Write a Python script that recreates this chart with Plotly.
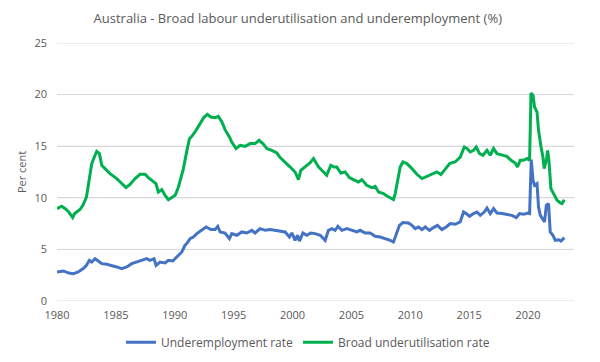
import plotly.graph_objects as go

# Broad labour underutilisation rate (%)
broad_t = [1980.0, 1980.4, 1980.7, 1981.0, 1981.33, 1981.5, 1981.95, 1982.2, 1982.5, 1982.75,
           1982.95, 1983.17, 1983.37, 1983.6, 1983.8, 1984.08, 1984.5, 1985.07, 1985.5, 1985.86,
           1986.2, 1986.63, 1987.05, 1987.48, 1987.76, 1988.18, 1988.4, 1988.6, 1988.9, 1989.18,
           1989.46, 1989.75, 1990.03, 1990.3, 1990.73, 1991.0, 1991.24, 1991.44, 1991.72, 1992.15,
           1992.5, 1992.77, 1993.06, 1993.42, 1993.7, 1994.0, 1994.27, 1994.64, 1994.84, 1995.2,
           1995.55, 1995.97, 1996.4, 1996.82, 1997.16, 1997.48, 1997.82, 1998.24, 1998.67, 1998.95,
           1999.37, 1999.8, 2000.22, 2000.5, 2000.7, 2001.07, 2001.5, 2001.78, 2002.2, 2002.63,
           2002.9, 2003.25, 2003.53, 2003.76, 2004.1, 2004.47, 2004.83, 2005.17, 2005.6, 2005.89,
           2006.3, 2006.74, 2007.02, 2007.3, 2007.72, 2008.06, 2008.3, 2008.57, 2008.72, 2008.91,
           2009.14, 2009.37, 2009.71, 2010.14, 2010.56, 2010.99, 2011.41, 2011.84, 2012.26, 2012.6,
           2012.97, 2013.36, 2013.8, 2014.24, 2014.58, 2014.81, 2015.09, 2015.37, 2015.6, 2015.88,
           2016.17, 2016.51, 2016.79, 2017.07, 2017.36, 2017.78, 2018.2, 2018.55, 2018.91, 2019.1,
           2019.33, 2019.62, 2019.9, 2020.13, 2020.25, 2020.42, 2020.55, 2020.76, 2020.89, 2021.1,
           2021.26, 2021.37, 2021.55, 2021.66, 2021.77, 2021.94, 2022.17, 2022.46, 2022.74, 2022.88,
           2023.08]
broad_v = [8.95, 9.18, 8.95, 8.62, 8.08, 8.47, 8.86, 9.27, 10.08, 11.7,
           13.3, 13.95, 14.5, 14.28, 13.15, 12.83, 12.34, 11.86, 11.38, 10.99,
           11.3, 11.86, 12.28, 12.28, 11.96, 11.53, 11.37, 10.56, 10.79, 10.24,
           9.82, 10.02, 10.24, 11.0, 12.8, 14.4, 15.7, 15.96, 16.38, 17.19,
           17.83, 18.09, 17.83, 17.77, 17.9, 17.35, 16.6, 15.9, 15.4, 14.77,
           15.09, 14.99, 15.25, 15.25, 15.57, 15.25, 14.77, 14.6, 14.34, 13.9,
           13.47, 12.98, 12.5, 11.76, 12.66, 12.98, 13.4, 13.8, 13.0, 12.5,
           12.18, 13.15, 12.98, 12.98, 12.4, 12.5, 11.96, 11.76, 11.53, 11.76,
           11.21, 10.99, 11.11, 10.56, 10.41, 10.15, 9.98, 9.83, 10.41, 11.53,
           12.98, 13.47, 13.31, 12.83, 12.28, 11.86, 12.08, 12.28, 12.5, 12.25,
           12.75, 13.35, 13.47, 13.95, 14.92, 14.77, 14.44, 14.6, 14.92, 14.28,
           14.12, 14.6, 14.12, 14.77, 14.28, 14.12, 14.02, 13.63, 13.37, 12.98,
           13.63, 13.63, 13.8, 13.63, 20.16, 19.93, 18.8, 18.31, 16.54, 14.92,
           13.95, 12.83, 13.63, 14.6, 13.63, 10.89, 10.41, 9.76, 9.5, 9.44,
           9.82]

# Underemployment rate (%)
under_t = [1980.0, 1980.54, 1981.0, 1981.4, 1981.8, 1982.23, 1982.5, 1982.75, 1982.95, 1983.23,
           1983.5, 1983.8, 1984.22, 1984.65, 1985.07, 1985.5, 1985.92, 1986.35, 1986.77, 1987.2,
           1987.62, 1987.9, 1988.24, 1988.41, 1988.75, 1989.18, 1989.46, 1989.83, 1990.17, 1990.6,
           1990.87, 1991.02, 1991.3, 1991.58, 1991.87, 1992.3, 1992.66, 1993.06, 1993.42, 1993.65,
           1993.85, 1994.27, 1994.64, 1994.84, 1995.27, 1995.69, 1996.12, 1996.54, 1996.82, 1997.25,
           1997.67, 1998.1, 1998.52, 1998.95, 1999.37, 1999.74, 1999.94, 2000.22, 2000.42, 2000.59,
           2000.88, 2001.21, 2001.55, 2001.92, 2002.35, 2002.77, 2003.05, 2003.34, 2003.62, 2003.85,
           2004.19, 2004.61, 2005.04, 2005.46, 2005.74, 2006.17, 2006.59, 2007.02, 2007.44, 2007.87,
           2008.3, 2008.57, 2008.8, 2009.08, 2009.37, 2009.85, 2010.14, 2010.42, 2010.7, 2010.99,
           2011.27, 2011.63, 2011.97, 2012.31, 2012.68, 2013.05, 2013.39, 2013.81, 2014.24, 2014.52,
           2014.75, 2015.03, 2015.37, 2015.66, 2015.94, 2016.28, 2016.51, 2016.79, 2017.07, 2017.36,
           2017.78, 2018.2, 2018.63, 2019.0, 2019.28, 2019.62, 2019.96, 2020.13, 2020.27, 2020.42,
           2020.55, 2020.76, 2020.89, 2021.04, 2021.26, 2021.4, 2021.55, 2021.74, 2021.88, 2022.11,
           2022.31, 2022.6, 2022.8, 2023.08]
under_v = [2.81, 2.91, 2.71, 2.65, 2.81, 3.14, 3.46, 3.94, 3.78, 4.1,
           3.88, 3.62, 3.56, 3.46, 3.3, 3.14, 3.3, 3.62, 3.78, 4.01,
           4.1, 3.94, 4.1, 3.46, 3.78, 3.69, 3.94, 3.88, 4.26, 4.75,
           5.4, 5.56, 6.05, 6.2, 6.53, 6.85, 7.17, 6.92, 6.92, 7.24,
           6.69, 6.59, 6.05, 6.53, 6.37, 6.69, 6.59, 6.85, 6.59, 7.01,
           6.85, 6.92, 6.85, 6.78, 6.69, 6.2, 6.59, 5.88, 6.37, 5.81,
           6.59, 6.37, 6.59, 6.53, 6.37, 5.88, 6.85, 7.01, 6.85, 7.24,
           6.85, 7.01, 6.85, 6.69, 6.85, 6.59, 6.59, 6.27, 6.2, 6.05,
           5.88, 5.72, 6.37, 7.33, 7.6, 7.56, 7.33, 7.01, 7.17, 6.92,
           7.17, 6.85, 7.11, 7.33, 6.92, 7.17, 7.5, 7.43, 7.66, 8.62,
           8.47, 8.21, 8.47, 8.62, 8.3, 8.62, 9.01, 8.47, 8.95, 8.53,
           8.47, 8.4, 8.3, 8.08, 8.47, 8.4, 8.53, 8.47, 13.7, 11.7,
           11.21, 11.37, 9.11, 8.3, 7.98, 7.66, 9.27, 9.44, 6.69, 6.37,
           5.88, 5.94, 5.81, 6.14]

x_ticks = [1980, 1985, 1990, 1995, 2000, 2005, 2010, 2015, 2020]
y_ticks = [0, 5, 10, 15, 20, 25]

FONT = "Open Sans"
GREY = "#595959"
GRID = "#D9D9D9"

fig = go.Figure()
fig.add_trace(go.Scatter(x=under_t, y=under_v, mode="lines", name="Underemployment rate",
                         line=dict(color="#4472C4", width=3)))
fig.add_trace(go.Scatter(x=broad_t, y=broad_v, mode="lines", name="Broad underutilisation rate",
                         line=dict(color="#00B050", width=3)))

# horizontal gridlines at each y tick, spanning the plot width
for yv in y_ticks:
    fig.add_shape(type="line", xref="paper", yref="y", x0=0, x1=1, y0=yv, y1=yv,
                  line=dict(color=GRID, width=1), layer="below")

fig.update_layout(
    width=600, height=362,
    paper_bgcolor="white", plot_bgcolor="white",
    margin=dict(l=49, r=34, t=35, b=69),
    font=dict(family=FONT, size=11, color=GREY),
    title=dict(text="Australia - Broad labour underutilisation and underemployment (%)",
               x=0.483, xanchor="center", y=0.972, yanchor="middle",
               font=dict(family=FONT, size=13, color=GREY)),
    showlegend=True,
    legend=dict(orientation="h", xref="container", yref="container",
                x=0.5, xanchor="center", y=0.077, yanchor="middle",
                font=dict(family=FONT, size=12, color=GREY), itemwidth=30,
                bgcolor="rgba(0,0,0,0)"),
    xaxis=dict(range=[1980, 2023.9], tickmode="array", tickvals=x_ticks,
               ticktext=[str(v) for v in x_ticks], showgrid=False, zeroline=False,
               showline=False, ticks="", automargin=False, ticklabelstandoff=6,
               tickfont=dict(size=11, color=GREY)),
    yaxis=dict(range=[0, 25], tickmode="array", tickvals=y_ticks, showgrid=True,
               gridcolor=GRID, gridwidth=1, zeroline=False, showline=False, ticks="",
               automargin=False, ticklabelstandoff=9,
               title=dict(text="Per cent", standoff=5, font=dict(size=11, color=GREY)),
               tickfont=dict(size=11, color=GREY)),
)

fig.write_html("out.html")
